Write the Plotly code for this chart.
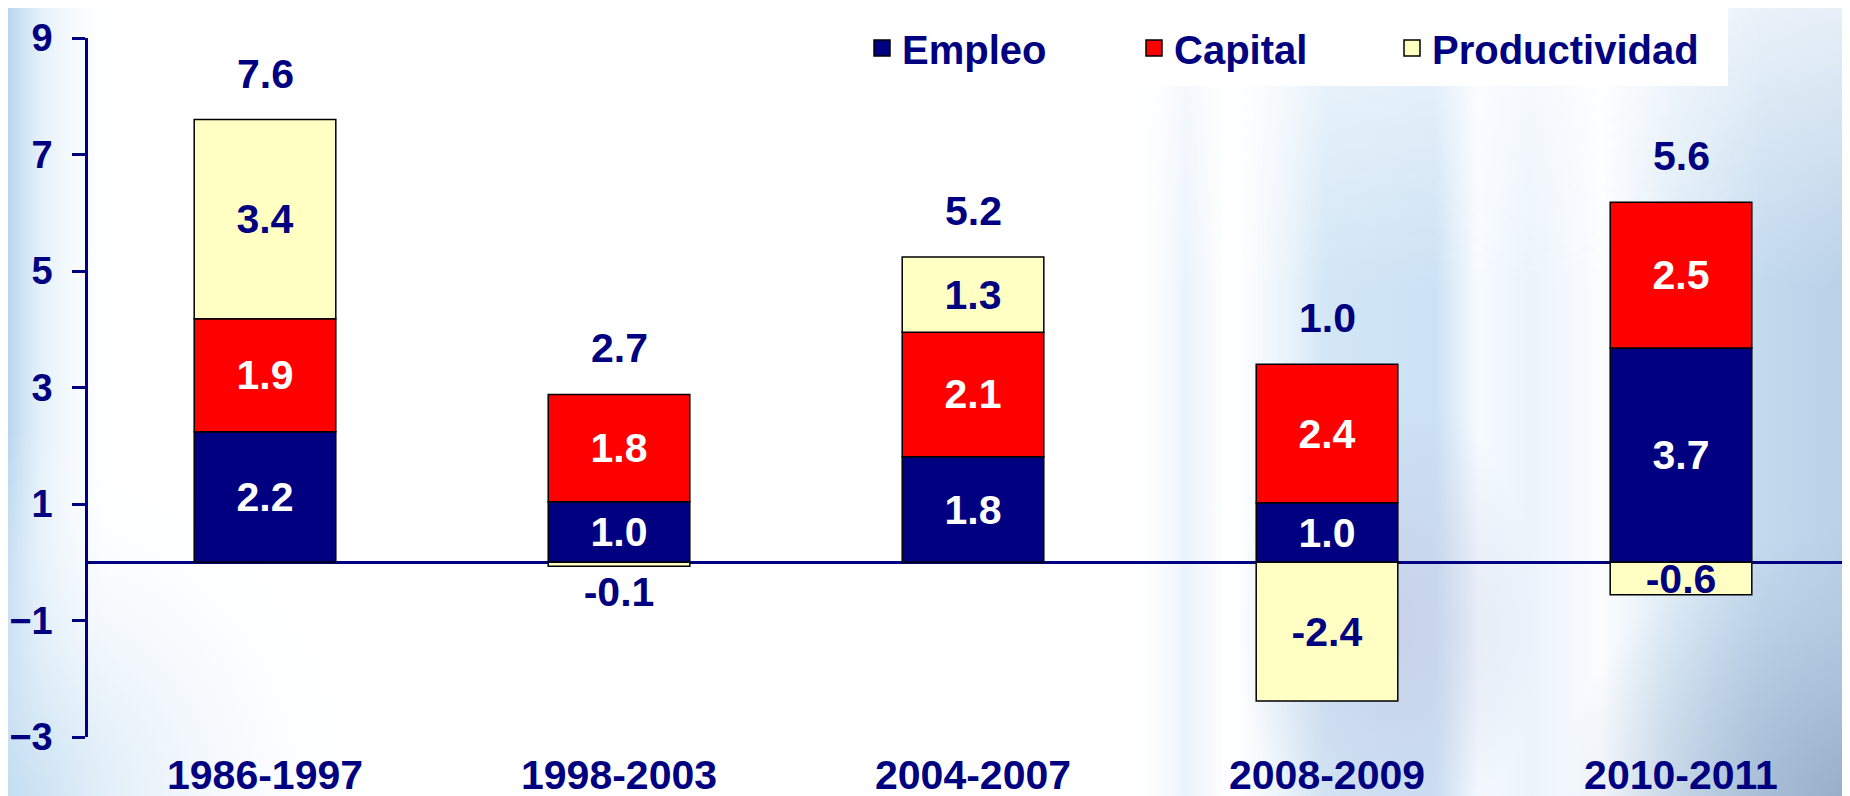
import base64
import numpy as np
import plotly.graph_objects as go

# ---- data ----
periods = ["1986-1997", "1998-2003", "2004-2007", "2008-2009", "2010-2011"]
empleo = [2.24, 1.04, 1.81, 1.02, 3.68]
capital = [1.94, 1.84, 2.14, 2.38, 2.50]
productividad = [3.42, -0.07, 1.29, -2.38, -0.56]
totales = [7.6, 2.7, 5.2, 1.0, 5.6]
y_ticks = [-3, -1, 1, 3, 5, 7, 9]

NAVY = "#000080"
RED = "#FF0000"
CREAM = "#FFFFC4"
FONT = "Liberation Sans"

# ---- decorative background (soft approximation of the photo backdrop) ----
svg = """<svg xmlns='http://www.w3.org/2000/svg' width='1850' height='796' viewBox='0 0 1850 796' preserveAspectRatio='none'>
<defs>
<linearGradient id='left' x1='0' x2='1' y1='0' y2='0'>
<stop offset='0' stop-color='#b4d3ee' stop-opacity='0.95'/>
<stop offset='0.3' stop-color='#d3e7f6' stop-opacity='0.6'/>
<stop offset='1' stop-color='#ffffff' stop-opacity='0'/>
</linearGradient>
<radialGradient id='lowleft' cx='0' cy='1' r='1'>
<stop offset='0' stop-color='#c4def2' stop-opacity='0.9'/>
<stop offset='1' stop-color='#ffffff' stop-opacity='0'/>
</radialGradient>
<linearGradient id='right' x1='0' x2='1' y1='0' y2='0'>
<stop offset='0' stop-color='#ffffff' stop-opacity='0'/>
<stop offset='0.08' stop-color='#e2eef9' stop-opacity='0.7'/>
<stop offset='0.14' stop-color='#ffffff' stop-opacity='0.5'/>
<stop offset='0.27' stop-color='#d0e5f5' stop-opacity='0.95'/>
<stop offset='0.42' stop-color='#c9e0f3' stop-opacity='0.95'/>
<stop offset='0.48' stop-color='#f5faff' stop-opacity='0.9'/>
<stop offset='0.55' stop-color='#e6f1fa' stop-opacity='0.8'/>
<stop offset='0.65' stop-color='#fbfdff' stop-opacity='0.9'/>
<stop offset='0.75' stop-color='#d9e9f6' stop-opacity='0.9'/>
<stop offset='0.87' stop-color='#c2d9ee' stop-opacity='1'/>
<stop offset='1' stop-color='#b8d0e7' stop-opacity='1'/>
</linearGradient>
<linearGradient id='vfade' x1='0' x2='0' y1='0' y2='1'>
<stop offset='0' stop-color='white' stop-opacity='0.35'/>
<stop offset='0.35' stop-color='white' stop-opacity='1'/>
<stop offset='1' stop-color='white' stop-opacity='1'/>
</linearGradient>
<mask id='m1'><rect x='0' y='0' width='1850' height='796' fill='url(#vfade)'/></mask>
<radialGradient id='corner' cx='1' cy='1' r='1'>
<stop offset='0' stop-color='#93aac5' stop-opacity='0.95'/>
<stop offset='1' stop-color='#a9bdd4' stop-opacity='0'/>
</radialGradient>
<radialGradient id='lav' cx='0.5' cy='0.6' r='0.5'>
<stop offset='0' stop-color='#c5cbe5' stop-opacity='0.75'/>
<stop offset='1' stop-color='#c5cbe5' stop-opacity='0'/>
</radialGradient>
</defs>
<rect x='0' y='0' width='1850' height='796' fill='#ffffff'/>
<rect x='0' y='0' width='110' height='796' fill='url(#left)'/>
<rect x='0' y='420' width='380' height='376' fill='url(#lowleft)'/>
<rect x='1120' y='0' width='730' height='796' fill='url(#right)' mask='url(#m1)'/>
<rect x='1230' y='330' width='300' height='480' fill='url(#lav)'/>
<rect x='1550' y='520' width='300' height='276' fill='url(#corner)'/>
<rect x='820' y='0' width='900' height='78' fill='#ffffff'/>
</svg>"""
bg_uri = "data:image/svg+xml;base64," + base64.b64encode(svg.encode()).decode()

W, H = 1850, 796
ML, MR, MT, MB = 80, 0, 30, 67
pw, ph = W - ML - MR, H - MT - MB

fig = go.Figure()

series = [
    ("Empleo", empleo, NAVY, "white", ["inside"] * len(periods), "legend", 854),
    ("Capital", capital, RED, "white", ["inside"] * len(periods), "legend2", 1126),
    ("Productividad", productividad, CREAM, NAVY,
     ["outside" if abs(v) < 0.2 else "inside" for v in productividad], "legend3", 1384),
]
legend_cfg = {}
for name, vals, col, tcol, tpos, leg, lx in series:
    fig.add_trace(go.Bar(
        name=name, x=periods, y=vals, width=0.4, showlegend=False,
        marker=dict(color=col, line=dict(color="#000000", width=1.5)),
        text=[f"{v:.1f}" for v in vals],
        textposition=tpos,
        insidetextanchor="middle",
        constraintext="none",
        textangle=0,
        insidetextfont=dict(family=FONT, size=41, color=tcol, weight="bold"),
        outsidetextfont=dict(family=FONT, size=41, color=NAVY, weight="bold"),
        cliponaxis=False,
        hoverinfo="skip",
    ))
    # legend entry with a square swatch
    fig.add_trace(go.Scatter(
        name=name, x=[None], y=[None], mode="markers", legend=leg,
        marker=dict(symbol="square", size=16, color=col,
                    line=dict(color="#000000", width=1.5)),
        hoverinfo="skip",
    ))
    legend_cfg[leg] = dict(
        orientation="h", x=(lx - ML) / pw, xanchor="left",
        y=1 - (40 - MT) / ph, yanchor="middle", bgcolor="rgba(0,0,0,0)",
        font=dict(family=FONT, size=40, color=NAVY, weight="bold"),
        itemwidth=30, itemsizing="trace",
    )

pos_top = np.sum(np.clip(np.array([empleo, capital, productividad]), 0, None), axis=0)
for p, top, tot in zip(periods, pos_top, totales):
    fig.add_annotation(x=p, y=top, text=f"{tot:.1f}", showarrow=False,
                       yanchor="bottom", yshift=21,
                       font=dict(family=FONT, size=41, color=NAVY, weight="bold"))

fig.update_layout(
    width=W, height=H,
    barmode="relative",
    margin=dict(l=ML, r=MR, t=MT, b=MB, autoexpand=False),
    paper_bgcolor="white",
    plot_bgcolor="rgba(0,0,0,0)",
    font=dict(family=FONT, color=NAVY),
    showlegend=True,
    images=[dict(source=bg_uri, xref="paper", yref="paper",
                 x=-ML / pw, y=1 + MT / ph, sizex=W / pw, sizey=H / ph,
                 xanchor="left", yanchor="top", sizing="stretch", layer="below")],
    **legend_cfg,
)

fig.update_xaxes(showgrid=False, showline=False, zeroline=False, ticks="",
                 tickfont=dict(family=FONT, size=41, color=NAVY, weight="bold"),
                 ticklabelstandoff=10)
fig.update_yaxes(range=[-3, 9], tickvals=y_ticks, showgrid=False,
                 showline=True, linecolor=NAVY, linewidth=2.5,
                 ticks="outside", ticklen=13, tickwidth=2.5, tickcolor=NAVY,
                 zeroline=True, zerolinecolor=NAVY, zerolinewidth=2.5,
                 tickfont=dict(family=FONT, size=38, color=NAVY, weight="bold"),
                 ticklabelstandoff=12)

fig.write_html("out.html")
